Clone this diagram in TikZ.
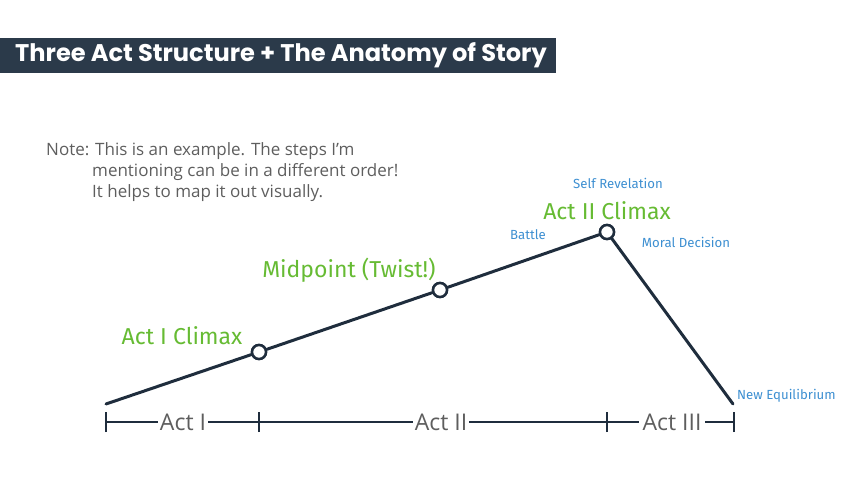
\documentclass[tikz,border=0pt]{standalone}
\usepackage{fontspec}
\setmainfont{Open Sans}
\newfontfamily\titlefont{Poppins}
\newfontfamily\handfont{Fira Sans}
\definecolor{navy}{HTML}{2B3A4A}
\definecolor{linec}{HTML}{1F2D3D}
\definecolor{greenc}{HTML}{66BB33}
\definecolor{bluec}{HTML}{3D8FD1}
\definecolor{greyc}{HTML}{5E5E5E}
\tikzset{
  x=1pt, y=-1pt,
  plot/.style={draw=linec, line width=3pt, line cap=round, line join=round},
  pt/.style={circle, draw=linec, fill=white, line width=2.5pt, minimum size=14pt, inner sep=0pt},
  greenlab/.style={text=greenc, font=\handfont\fontsize{23}{26}\selectfont, inner sep=0pt},
  bluelab/.style={text=bluec, font=\handfont\fontsize{13.2}{15}\selectfont, inner sep=0pt},
  actlab/.style={text=greyc, font=\fontsize{23}{26}\selectfont, fill=white, inner xsep=2pt, inner ysep=0pt},
  axis/.style={draw=linec, line width=2.5pt},
  tick/.style={draw=linec, line width=2.5pt}
}
\begin{document}
\begin{tikzpicture}
\useasboundingbox (0,0) rectangle (860,484);
% title
\fill[navy] (0,38) rectangle (556,73);
\node[text=white, font=\titlefont\bfseries\fontsize{24.1}{26}\selectfont, anchor=west, inner sep=0pt] (title) at (15,55.5) {Three Act Structure + The Anatomy of Story};
% note
\node[text=greyc, font=\fontsize{17}{21}\selectfont, anchor=north west, inner sep=0pt, align=left] (note) at (46,142)
  {Note: This is an example. The steps I'm\\
  \hspace*{46pt}mentioning can be in a different order!\\
  \hspace*{46pt}It helps to map it out visually.};
% plot points
\coordinate (s) at (106,404);
\coordinate (e) at (733,404);
\node[pt] (c1) at (259,352) {};
\node[pt] (c2) at (440,290) {};
\node[pt] (c3) at (607,232) {};
\draw[plot] (s) -- (c1) -- (c2) -- (c3) -- (e);
\node[pt] at (259,352) {};
\node[pt] at (440,290) {};
\node[pt] at (607,232) {};
% labels
\node[greenlab] (l1) at (182,336) {Act I Climax};
\node[greenlab] (l2) at (349,270) {Midpoint (Twist!)};
\node[greenlab] (l3) at (607,211) {Act II Climax};
\node[bluelab] (b1) at (618,183) {Self Revelation};
\node[bluelab] (b2) at (528,235) {Battle};
\node[bluelab] (b3) at (686,242) {Moral Decision};
\node[bluelab, anchor=west] (b4) at (737,396) {New Equilibrium};
% timeline
\coordinate (t0) at (106,422);
\coordinate (t1) at (259,422);
\coordinate (t2) at (607,422);
\coordinate (t3) at (734,422);
\draw[axis] (t0) -- (t3);
\foreach \p in {t0,t1,t2,t3} \draw[tick] ([yshift=-10pt]\p) -- ([yshift=10pt]\p);
\node[actlab] (a1) at (183,422) {Act I};
\node[actlab] (a2) at (441,422) {Act II};
\node[actlab, inner xsep=4pt] (a3) at (672,422) {Act III};
\end{tikzpicture}
\end{document}
